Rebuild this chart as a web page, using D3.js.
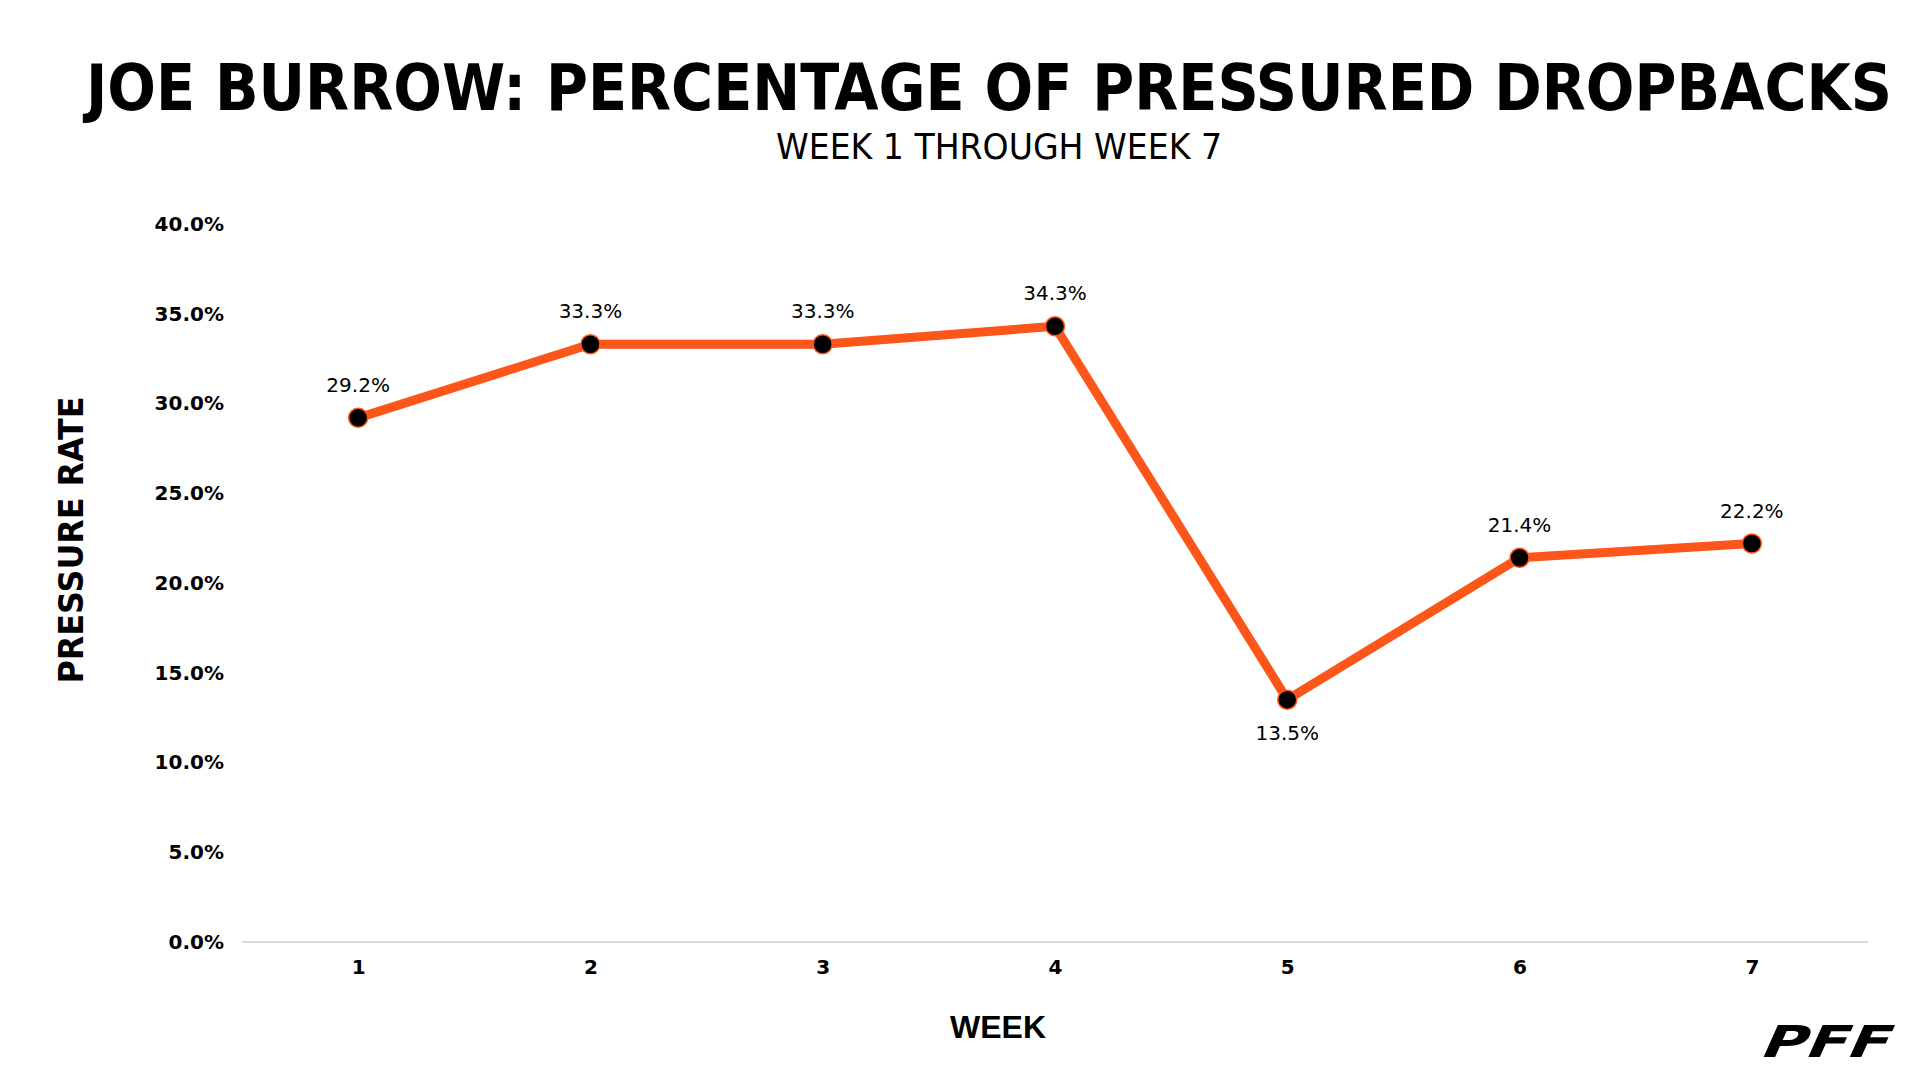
<!DOCTYPE html>
<html>
<head>
<meta charset="utf-8">
<script src="https://cdn.jsdelivr.net/npm/d3@7"></script>
<style>
  body { margin: 0; background: #fff; }
  svg { display: block; }
</style>
</head>
<body>
<svg id="chart"></svg>
<script>
const weeks = [1, 2, 3, 4, 5, 6, 7];
const pressureRate = [29.2, 33.3, 33.3, 34.3, 13.5, 21.4, 22.2];
const yTicks = [0, 5, 10, 15, 20, 25, 30, 35, 40];
// labels go under the point for these weeks
const labelBelow = [5];

const width = 1920;
const height = 1080;

const svg = d3.select("#chart")
    .attr("width", width)
    .attr("height", height);

const x = d3.scalePoint()
    .domain(weeks)
    .range([242, 1868])
    .padding(0.5);

const y = d3.scaleLinear()
    .domain([0, 40])
    .range([942, 224]);

// title + subtitle
svg.append("text")
    .attr("x", 86)
    .attr("y", 110)
    .attr("textLength", 1806)
    .attr("lengthAdjust", "spacingAndGlyphs")
    .style("font-family", "'DejaVu Sans Condensed', 'Liberation Sans Narrow', sans-serif")
    .style("font-weight", "bold")
    .style("font-size", "64px")
    .text("JOE BURROW: PERCENTAGE OF PRESSURED DROPBACKS");

svg.append("text")
    .attr("x", 776)
    .attr("y", 159)
    .attr("textLength", 446)
    .attr("lengthAdjust", "spacingAndGlyphs")
    .style("font-family", "'DejaVu Sans Condensed', sans-serif")
    .style("font-size", "36px")
    .text("WEEK 1 THROUGH WEEK 7");

// baseline
svg.append("line")
    .attr("x1", 242).attr("x2", 1868)
    .attr("y1", y(0)).attr("y2", y(0))
    .attr("stroke", "#d9d9d9")
    .attr("stroke-width", 2);

// y axis (labels only)
const yAxis = svg.append("g")
    .attr("transform", "translate(224,0)")
    .call(d3.axisLeft(y).tickValues(yTicks).tickSize(0).tickPadding(0)
        .tickFormat(d => d.toFixed(1) + "%"));
yAxis.select(".domain").remove();
yAxis.selectAll("text")
    .style("font-family", "'DejaVu Sans', sans-serif")
    .style("font-weight", "bold")
    .style("font-size", "20px")
    .attr("fill", "#000");

// x axis (labels only)
const xAxis = svg.append("g")
    .attr("transform", "translate(0,960)")
    .call(d3.axisBottom(x).tickSize(0).tickPadding(0));
xAxis.select(".domain").remove();
xAxis.selectAll("text")
    .style("font-family", "'DejaVu Sans', sans-serif")
    .style("font-weight", "bold")
    .style("font-size", "20px")
    .attr("fill", "#000");

// axis titles
svg.append("text")
    .attr("transform", "translate(83,540) rotate(-90)")
    .attr("text-anchor", "middle")
    .attr("textLength", 287)
    .attr("lengthAdjust", "spacingAndGlyphs")
    .style("font-family", "'DejaVu Sans', sans-serif")
    .style("font-weight", "bold")
    .style("font-size", "33px")
    .text("PRESSURE RATE");

svg.append("text")
    .attr("x", 998)
    .attr("y", 1038)
    .attr("text-anchor", "middle")
    .style("font-family", "'Liberation Sans', Arial, sans-serif")
    .style("font-weight", "bold")
    .style("font-size", "32px")
    .text("WEEK");

// line + markers
const data = weeks.map((w, i) => ({ week: w, value: pressureRate[i] }));

const line = d3.line()
    .x(d => x(d.week))
    .y(d => y(d.value));

svg.append("path")
    .datum(data)
    .attr("d", line)
    .attr("fill", "none")
    .attr("stroke", "#fc561a")
    .attr("stroke-width", 9)
    .attr("stroke-linejoin", "round");

svg.selectAll(".dot")
    .data(data)
    .join("circle")
    .attr("class", "dot")
    .attr("cx", d => x(d.week))
    .attr("cy", d => y(d.value))
    .attr("r", 9.5)
    .attr("fill", "#000")
    .attr("stroke", "#fc561a")
    .attr("stroke-width", 1.5);

svg.selectAll(".lbl")
    .data(data)
    .join("text")
    .attr("class", "lbl")
    .attr("x", d => x(d.week))
    .attr("y", d => labelBelow.includes(d.week) ? y(d.value) + 40 : y(d.value) - 26)
    .attr("text-anchor", "middle")
    .style("font-family", "'DejaVu Sans', sans-serif")
    .style("font-size", "20px")
    .attr("fill", "#000")
    .text(d => d.value.toFixed(1) + "%");

// PFF mark
svg.append("text")
    .attr("transform", "translate(1758,1057) skewX(-24)")
    .attr("textLength", 128)
    .attr("lengthAdjust", "spacingAndGlyphs")
    .style("font-family", "'DejaVu Sans', sans-serif")
    .style("font-weight", "900")
    .style("font-size", "44px")
    .text("PFF");
</script>
</body>
</html>
